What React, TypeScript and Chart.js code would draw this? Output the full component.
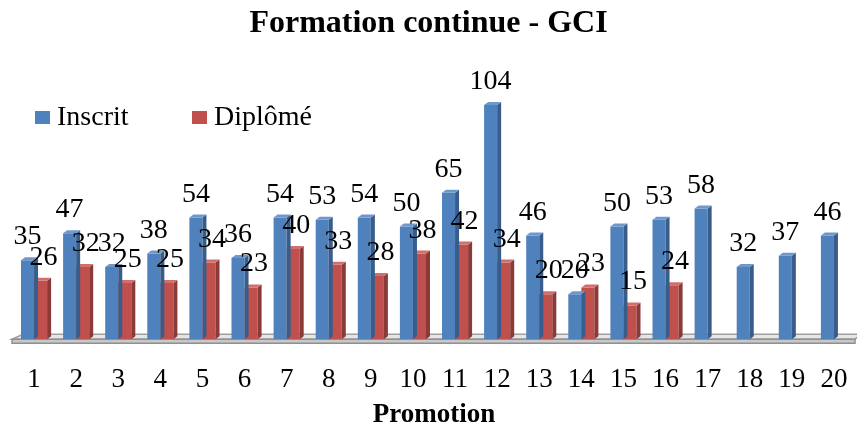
import React, { useEffect, useRef } from "react";
import { Chart, registerables } from "chart.js";

Chart.register(...registerables);

const categories = ["1", "2", "3", "4", "5", "6", "7", "8", "9", "10", "11", "12", "13", "14", "15", "16", "17", "18", "19", "20"];
const inscrit = [35, 47, 32, 38, 54, 36, 54, 53, 54, 50, 65, 104, 46, 20, 50, 53, 58, 32, 37, 46];
const diplome: (number | null)[] = [26, 32, 25, 25, 34, 23, 40, 33, 28, 38, 42, 34, 20, 23, 15, 24, null, null, null, null];
const seriesNames = ["Inscrit", "Diplômé"];
const chartTitle = "Formation continue - GCI";
const xTitle = "Promotion";
const yMax = 110;

const FONT = '"Liberation Serif", "Times New Roman", serif';
const PALETTE = [
  { front: "#4F81BD", side: "#385D8A", top: "#6E98CC" },
  { front: "#C0504D", side: "#8C3A38", top: "#D06F6C" },
];
const DEPTH_X = 4;
const DEPTH_Y = 3;

const floorPlugin = {
  id: "floor3d",
  beforeDatasetsDraw(chart: any) {
    const { ctx, chartArea } = chart;
    const l = chartArea.left - 1;
    const r = chartArea.right;
    const b = chartArea.bottom;
    ctx.save();
    ctx.beginPath();
    ctx.moveTo(l, b);
    ctx.lineTo(l + 11, b - 5);
    ctx.lineTo(r + 6, b - 5);
    ctx.lineTo(r, b);
    ctx.closePath();
    ctx.fillStyle = "#e6e6e6";
    ctx.fill();
    ctx.strokeStyle = "#a0a0a0";
    ctx.lineWidth = 1.5;
    ctx.stroke();
    ctx.beginPath();
    ctx.rect(l, b, r - l, 4);
    ctx.fillStyle = "#c8c8c8";
    ctx.fill();
    ctx.strokeStyle = "#909090";
    ctx.stroke();
    ctx.restore();
  },
};

const bar3dPlugin = {
  id: "bar3d",
  afterDatasetDraw(chart: any, args: any) {
    const { ctx } = chart;
    const meta = args.meta;
    const colors = PALETTE[args.index];
    const data = chart.data.datasets[args.index].data;
    ctx.save();
    meta.data.forEach((el: any, i: number) => {
      if (data[i] === null || data[i] === undefined) return;
      const { x, y, base, width } = el.getProps(["x", "y", "base", "width"], true);
      const left = x - width / 2;
      const right = x + width / 2;
      ctx.beginPath();
      ctx.moveTo(right, y);
      ctx.lineTo(right + DEPTH_X, y - DEPTH_Y);
      ctx.lineTo(right + DEPTH_X, base - DEPTH_Y);
      ctx.lineTo(right, base);
      ctx.closePath();
      ctx.fillStyle = colors.side;
      ctx.fill();
      ctx.beginPath();
      ctx.moveTo(left, y);
      ctx.lineTo(left + DEPTH_X, y - DEPTH_Y);
      ctx.lineTo(right + DEPTH_X, y - DEPTH_Y);
      ctx.lineTo(right, y);
      ctx.closePath();
      ctx.fillStyle = colors.top;
      ctx.fill();
    });
    ctx.restore();
  },
};

const labelsPlugin = {
  id: "valueLabels",
  afterDatasetsDraw(chart: any) {
    const { ctx } = chart;
    ctx.save();
    ctx.font = `28px ${FONT}`;
    ctx.fillStyle = "#000";
    ctx.textAlign = "center";
    ctx.textBaseline = "alphabetic";
    chart.data.datasets.forEach((ds: any, di: number) => {
      const meta = chart.getDatasetMeta(di);
      meta.data.forEach((el: any, i: number) => {
        const v = ds.data[i];
        if (v === null || v === undefined) return;
        const { x, y } = el.getProps(["x", "y"], true);
        ctx.fillText(String(v), x + (di === 1 ? 3 : 0), y - 16);
      });
    });
    ctx.restore();
  },
};

const legendPlugin = {
  id: "customLegend",
  afterDraw(chart: any) {
    const { ctx } = chart;
    const items = [
      { x: 35, label: seriesNames[0], color: PALETTE[0].front },
      { x: 192, label: seriesNames[1], color: PALETTE[1].front },
    ];
    ctx.save();
    ctx.font = `28px ${FONT}`;
    ctx.textBaseline = "alphabetic";
    ctx.textAlign = "left";
    items.forEach((it) => {
      ctx.fillStyle = it.color;
      ctx.fillRect(it.x, 111, 15, 13);
      ctx.fillStyle = "#000";
      ctx.fillText(it.label, it.x + 22, 125);
    });
    ctx.restore();
  },
};

export default function App() {
  const canvasRef = useRef<HTMLCanvasElement | null>(null);

  useEffect(() => {
    if (!canvasRef.current) return;
    const chart = new Chart(canvasRef.current, {
      type: "bar",
      data: {
        labels: categories,
        datasets: [
          {
            label: seriesNames[0],
            data: inscrit,
            backgroundColor: PALETTE[0].front,
            categoryPercentage: 0.62,
            barPercentage: 1,
          },
          {
            label: seriesNames[1],
            data: diplome,
            backgroundColor: PALETTE[1].front,
            categoryPercentage: 0.62,
            barPercentage: 1,
          },
        ],
      },
      options: {
        responsive: false,
        maintainAspectRatio: false,
        animation: false,
        devicePixelRatio: 1,
        layout: { padding: 0 },
        plugins: {
          legend: { display: false },
          tooltip: { enabled: false },
          title: {
            display: true,
            text: chartTitle,
            color: "#000",
            font: { family: FONT, size: 32, weight: "bold" },
            padding: { top: 5, bottom: 48 },
          },
        },
        scales: {
          x: {
            grid: { display: false, drawTicks: false },
            border: { display: false },
            ticks: {
              color: "#000",
              font: { family: FONT, size: 27 },
              padding: 25,
              maxRotation: 0,
              autoSkip: false,
            },
            title: {
              display: true,
              text: xTitle,
              color: "#000",
              font: { family: FONT, size: 27, weight: "bold" },
              padding: { top: -23, bottom: 1 },
            },
            afterFit(scale: any) {
              scale.paddingLeft = 13;
              scale.paddingRight = 2;
            },
          },
          y: {
            display: false,
            min: 0,
            max: yMax,
          },
        },
      },
      plugins: [floorPlugin, bar3dPlugin, labelsPlugin, legendPlugin],
    });
    return () => chart.destroy();
  }, []);

  return (
    <div style={{ position: "absolute", left: 0, top: 0, width: 857, height: 432, background: "#fff" }}>
      <canvas ref={canvasRef} width={857} height={432} />
    </div>
  );
}
